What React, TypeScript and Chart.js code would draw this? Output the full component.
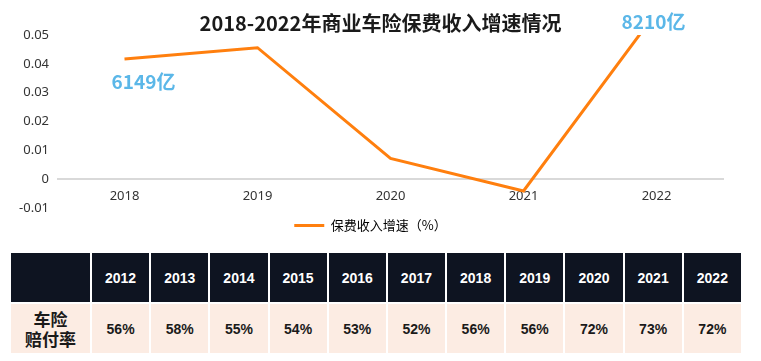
import React, { useEffect, useRef } from "react";
import { Chart, registerables } from "chart.js";

Chart.register(...registerables);

const TITLE = "2018-2022年商业车险保费收入增速情况";
const years = ["2018", "2019", "2020", "2021", "2022"];
const growth = [0.0417, 0.0456, 0.0072, -0.0041, 0.058];
const seriesName = "保费收入增速（%）";
const premiumLabels = ["6149亿", "", "", "", "8210亿"];
const yTicks = [-0.01, 0, 0.01, 0.02, 0.03, 0.04, 0.05];

const tableYears = ["2012", "2013", "2014", "2015", "2016", "2017", "2018", "2019", "2020", "2021", "2022"];
const lossRatios = ["56%", "58%", "55%", "54%", "53%", "52%", "56%", "56%", "72%", "73%", "72%"];
const rowLabel = ["车险", "赔付率"];

const ORANGE = "#FF7F0E";
const BLUE = "#5BB7E8";
const CJK = '"Noto Sans CJK SC", "Noto Sans", sans-serif';
const NUM = '"Noto Sans", "Open Sans", sans-serif';

const titlePlugin = {
  id: "customTitle",
  afterDraw(chart: any) {
    const ctx = chart.ctx;
    ctx.save();
    ctx.font = `bold 20px ${CJK}`;
    ctx.fillStyle = "#1a1a1a";
    ctx.textAlign = "center";
    ctx.textBaseline = "middle";
    ctx.fillText(TITLE, chart.width / 2, 23);
    ctx.restore();
  },
};

const labelPlugin = {
  id: "premiumLabels",
  afterDatasetsDraw(chart: any) {
    const ctx = chart.ctx;
    const xs = chart.scales.x;
    const ys = chart.scales.y;
    const offsets: Record<number, [number, number]> = { 0: [19, 23], 4: [-3, 0] };
    ctx.save();
    ctx.font = `bold 19px ${CJK}`;
    ctx.fillStyle = BLUE;
    ctx.textAlign = "center";
    ctx.textBaseline = "middle";
    premiumLabels.forEach((t, i) => {
      if (!t) return;
      const x = xs.getPixelForValue(i) + offsets[i][0];
      const yv = Math.min(growth[i], ys.max);
      let y = ys.getPixelForValue(yv) + offsets[i][1];
      if (i === 4) y = chart.chartArea.top - 13;
      ctx.fillText(t, x, y);
    });
    ctx.restore();
  },
};

export default function App() {
  const ref = useRef<HTMLCanvasElement>(null);
  useEffect(() => {
    if (!ref.current) return;
    const chart = new Chart(ref.current, {
      type: "line",
      data: {
        labels: years,
        datasets: [
          {
            label: seriesName,
            data: growth,
            borderColor: ORANGE,
            backgroundColor: ORANGE,
            borderWidth: 3,
            pointRadius: 0,
            tension: 0,
          },
        ],
      },
      options: {
        animation: false,
        responsive: false,
        maintainAspectRatio: false,
        layout: { padding: { top: 35, right: 38, left: 18, bottom: 0 } },
        scales: {
          x: {
            position: { y: 0 } as any,
            offset: true,
            grid: { display: false, drawTicks: false },
            border: { display: true, color: "#D9D9D9", width: 2 },
            ticks: { padding: 9, color: "#333", font: { size: 13, family: NUM } },
          },
          y: {
            min: -0.01,
            max: 0.05,
            afterBuildTicks(axis: any) {
              axis.ticks = yTicks.map((v) => ({ value: v }));
            },
            afterFit(axis: any) {
              axis.width = 40;
            },
            grid: { display: false, drawTicks: false },
            border: { display: false },
            ticks: {
              padding: 9,
              color: "#333",
              font: { size: 13, family: NUM },
              callback: (v: any) => String(Math.round(Number(v) * 100) / 100),
            },
          },
        },
        plugins: {
          title: { display: false },
          tooltip: { enabled: false },
          legend: {
            position: "bottom",
            labels: {
              boxWidth: 30,
              boxHeight: 3,
              padding: 11,
              color: "#333",
              font: { size: 13, family: CJK },
              generateLabels: () => [
                {
                  text: seriesName,
                  fillStyle: ORANGE,
                  strokeStyle: ORANGE,
                  lineWidth: 0,
                  datasetIndex: 0,
                  hidden: false,
                },
              ],
            },
          },
        },
      },
      plugins: [titlePlugin, labelPlugin],
    });
    return () => chart.destroy();
  }, []);

  const cellBase: React.CSSProperties = {
    height: 49,
    padding: 0,
    textAlign: "center",
    verticalAlign: "middle",
    fontFamily: 'Arial, "Liberation Sans", sans-serif',
    fontWeight: "bold",
  };

  return (
    <div style={{ position: "fixed", top: 0, left: 0, width: 761, height: 361, background: "#fff" }}>
      <canvas ref={ref} width={761} height={242} style={{ position: "absolute", top: 0, left: 0, width: 761, height: 242 }} />
      <table
        style={{
          position: "absolute",
          top: 251,
          left: 9,
          borderCollapse: "separate",
          borderSpacing: "2px",
          tableLayout: "fixed",
          width: 734,
        }}
      >
        <tbody>
          <tr>
            <td style={{ ...cellBase, width: 79, background: "#0E1421" }}></td>
            {tableYears.map((y) => (
              <td key={y} style={{ ...cellBase, background: "#0E1421", color: "#fff", fontSize: 14 }}>
                {y}
              </td>
            ))}
          </tr>
          <tr>
            <td style={{ ...cellBase, width: 79, background: "#FCECE3", color: "#1a1a1a", fontSize: 17, lineHeight: "20px", fontFamily: CJK }}>
              {rowLabel[0]}
              <br />
              {rowLabel[1]}
            </td>
            {lossRatios.map((v, i) => (
              <td key={i} style={{ ...cellBase, background: "#FCECE3", color: "#1a1a1a", fontSize: 14 }}>
                {v}
              </td>
            ))}
          </tr>
        </tbody>
      </table>
    </div>
  );
}
